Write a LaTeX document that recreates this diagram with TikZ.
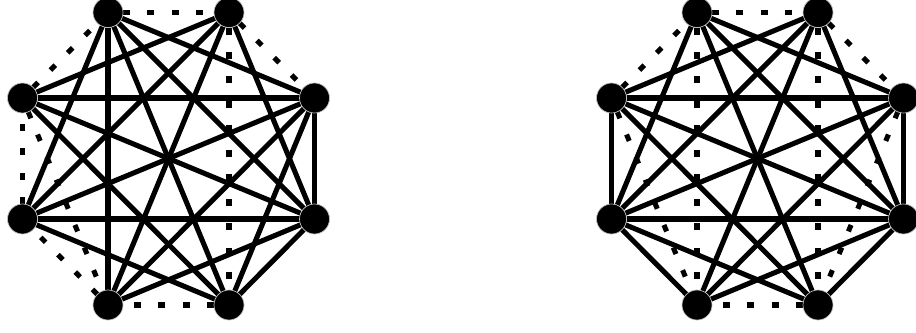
\documentclass[tikz,border=0pt]{standalone}
\usetikzlibrary{backgrounds}
\begin{document}
\begin{tikzpicture}[x=0.75pt,y=-0.75pt,
  vtx/.style={circle,fill=black,draw=black!25,line width=0.5pt,minimum size=22.5pt,inner sep=0pt,outer sep=0pt},
  sol/.style={line width=3.8pt},
  dot/.style={line width=3.8pt,dash pattern=on 5.25pt off 13.1pt}]
\useasboundingbox (0,0) rectangle (916,332);
% left graph vertices
\node[vtx] (lA) at (108,12.5) {};
\node[vtx] (lB) at (229,12.5) {};
\node[vtx] (lC) at (314.5,98) {};
\node[vtx] (lD) at (314.5,219) {};
\node[vtx] (lE) at (229,305) {};
\node[vtx] (lF) at (108,305) {};
\node[vtx] (lG) at (22.5,219) {};
\node[vtx] (lH) at (22.5,98) {};
% right graph vertices
\node[vtx] (rA) at (697,12.5) {};
\node[vtx] (rB) at (818,12.5) {};
\node[vtx] (rC) at (903.5,98) {};
\node[vtx] (rD) at (903.5,219) {};
\node[vtx] (rE) at (818,305) {};
\node[vtx] (rF) at (697,305) {};
\node[vtx] (rG) at (611.5,219) {};
\node[vtx] (rH) at (611.5,98) {};
\begin{scope}[on background layer]
% left solid
\foreach \a/\b in {A/C,A/D,A/E,A/F,A/G,B/D,B/F,B/G,B/H,C/D,C/E,C/F,C/G,C/H,D/E,D/F,D/G,D/H,E/G,E/H}
  \draw[sol] (l\a) -- (l\b);
% left dotted
\foreach \a/\b in {A/B,B/C,E/F,F/G,G/H,H/A,B/E,H/F}
  \draw[dot] (l\a) -- (l\b);
% right solid
\foreach \a/\b in {A/C,A/D,A/E,A/G,B/D,B/F,B/G,B/H,C/D,C/F,C/G,C/H,D/E,D/F,D/G,D/H,E/G,E/H,F/G,G/H}
  \draw[sol] (r\a) -- (r\b);
% right dotted
\foreach \a/\b in {A/B,B/C,H/A,E/F,A/F,B/E,H/F,C/E}
  \draw[dot] (r\a) -- (r\b);
\end{scope}
\end{tikzpicture}
\end{document}
